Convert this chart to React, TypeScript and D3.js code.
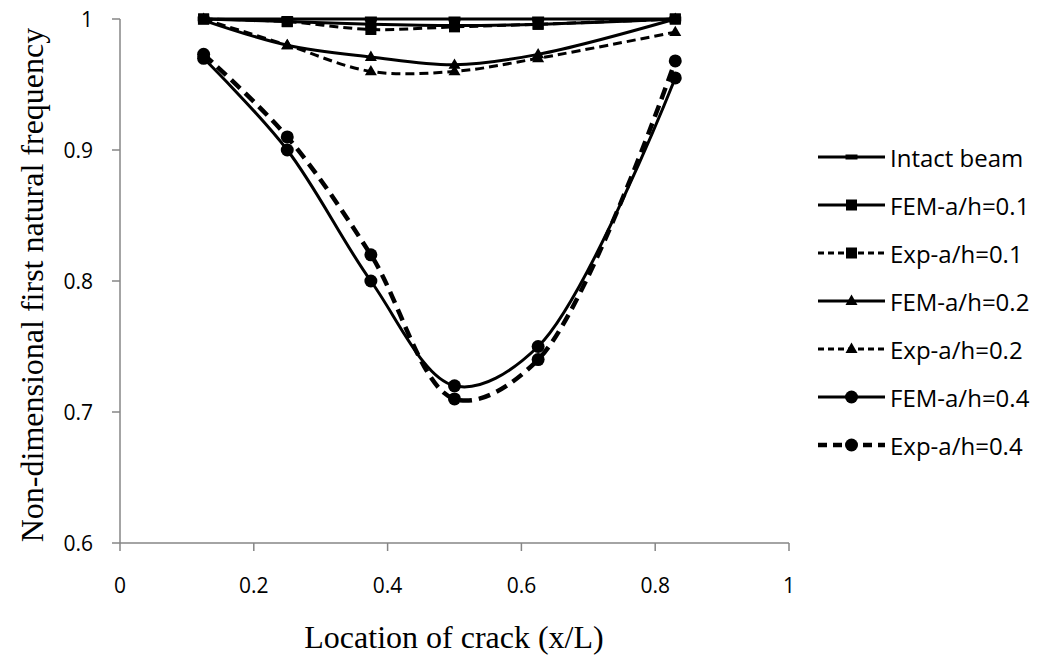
import React from "react";
import * as d3 from "d3";

const xValues = [0.125, 0.25, 0.375, 0.5, 0.625, 0.83];
const intactBeam = [1, 1, 1, 1, 1, 1];
const femA01 = [1.0, 0.998, 0.996, 0.995, 0.996, 1.0];
const expA01 = [1.0, 0.998, 0.992, 0.994, 0.996, 1.0];
const femA02 = [0.999, 0.98, 0.971, 0.965, 0.973, 1.0];
const expA02 = [1.0, 0.98, 0.96, 0.96, 0.97, 0.99];
const femA04 = [0.97, 0.9, 0.8, 0.72, 0.75, 0.955];
const expA04 = [0.973, 0.91, 0.82, 0.71, 0.74, 0.968];

const xTicks = [0, 0.2, 0.4, 0.6, 0.8, 1];
const yTicks = [0.6, 0.7, 0.8, 0.9, 1];
const xTickLabels = ["0", "0.2", "0.4", "0.6", "0.8", "1"];
const yTickLabels = ["0.6", "0.7", "0.8", "0.9", "1"];

type Marker = "dash" | "square" | "triangle" | "circle";
interface Series {
  name: string;
  values: number[];
  marker: Marker;
  dash: string | null;
  width: number;
}

const seriesList: Series[] = [
  { name: "Intact beam", values: intactBeam, marker: "dash", dash: null, width: 3 },
  { name: "FEM-a/h=0.1", values: femA01, marker: "square", dash: null, width: 3 },
  { name: "Exp-a/h=0.1", values: expA01, marker: "square", dash: "9,5", width: 3 },
  { name: "FEM-a/h=0.2", values: femA02, marker: "triangle", dash: null, width: 3 },
  { name: "Exp-a/h=0.2", values: expA02, marker: "triangle", dash: "9,5", width: 3 },
  { name: "FEM-a/h=0.4", values: femA04, marker: "circle", dash: null, width: 3 },
  { name: "Exp-a/h=0.4", values: expA04, marker: "circle", dash: "12,7", width: 4.5 },
];

const W = 1039;
const H = 656;
const plotLeft = 120;
const plotRight = 789;
const plotTop = 19;
const plotBottom = 543;
const AXIS = "#868686";
const SANS = "'Open Sans', 'Noto Sans', sans-serif";
const SERIF = "'Liberation Serif', 'Times New Roman', serif";

function MarkerShape({ type, cx, cy }: { type: Marker; cx: number; cy: number }) {
  if (type === "square") return <rect x={cx - 5.5} y={cy - 5.5} width={11} height={11} fill="#000" />;
  if (type === "triangle") {
    const s = 12;
    const h = s * 0.866;
    return (
      <path
        d={`M${cx},${cy - h * 0.62}L${cx + s / 2},${cy + h * 0.38}L${cx - s / 2},${cy + h * 0.38}Z`}
        fill="#000"
      />
    );
  }
  if (type === "circle") return <circle cx={cx} cy={cy} r={6.5} fill="#000" />;
  return <rect x={cx - 6} y={cy - 2.5} width={12} height={5} fill="#000" />;
}

export default function App() {
  const x = d3.scaleLinear().domain([0, 1]).range([plotLeft, plotRight]);
  const y = d3.scaleLinear().domain([0.6, 1]).range([plotBottom, plotTop]);
  const line = d3
    .line<[number, number]>()
    .x((d) => x(d[0]))
    .y((d) => y(d[1]))
    .curve(d3.curveCatmullRom.alpha(0.5));

  const legendX0 = 818;
  const legendX1 = 885;
  const legendTextX = 890;
  const legendY0 = 157;
  const legendStep = 48;

  return (
    <svg
      width={W}
      height={H}
      style={{ position: "absolute", left: 0, top: 0, background: "#fff" }}
      xmlns="http://www.w3.org/2000/svg"
    >
      <rect x={0} y={0} width={W} height={H} fill="#fff" />
      {/* axes */}
      <line x1={plotLeft} x2={plotLeft} y1={plotTop} y2={plotBottom} stroke={AXIS} strokeWidth={1.5} />
      <line x1={plotLeft} x2={plotRight} y1={plotBottom} y2={plotBottom} stroke={AXIS} strokeWidth={1.5} />
      {yTicks.map((t, i) => (
        <g key={"yt" + i}>
          <line x1={plotLeft - 8} x2={plotLeft} y1={y(t)} y2={y(t)} stroke={AXIS} strokeWidth={1.5} />
          <text
            x={93}
            y={y(t)}
            textAnchor="end"
            dominantBaseline="central"
            fontFamily={SANS}
            fontSize={21}
            fill="#000"
          >
            {yTickLabels[i]}
          </text>
        </g>
      ))}
      {xTicks.map((t, i) => (
        <g key={"xt" + i}>
          <line x1={x(t)} x2={x(t)} y1={plotBottom} y2={plotBottom + 8} stroke={AXIS} strokeWidth={1.5} />
          <text
            x={x(t)}
            y={585}
            textAnchor="middle"
            dominantBaseline="central"
            fontFamily={SANS}
            fontSize={21}
            fill="#000"
          >
            {xTickLabels[i]}
          </text>
        </g>
      ))}
      <text
        x={454}
        y={648}
        textAnchor="middle"
        fontFamily={SERIF}
        fontSize={32}
        fill="#000"
      >
        Location of crack (x/L)
      </text>
      <text
        transform={`translate(43,285) rotate(-90)`}
        textAnchor="middle"
        fontFamily={SERIF}
        fontSize={32}
        fill="#000"
      >
        Non-dimensional first natural frequency
      </text>

      {/* series */}
      {seriesList.map((s, si) => {
        const pts: [number, number][] = xValues.map((xv, i) => [xv, s.values[i]]);
        return (
          <g key={"s" + si}>
            <path
              d={line(pts) || ""}
              fill="none"
              stroke="#000"
              strokeWidth={s.width}
              strokeDasharray={s.dash || undefined}
            />
            {pts.map((p, pi) => (
              <MarkerShape key={pi} type={s.marker} cx={x(p[0])} cy={y(p[1])} />
            ))}
          </g>
        );
      })}

      {/* legend */}
      {seriesList.map((s, si) => {
        const ly = legendY0 + si * legendStep;
        return (
          <g key={"lg" + si}>
            <line
              x1={legendX0}
              x2={legendX1}
              y1={ly}
              y2={ly}
              stroke="#000"
              strokeWidth={s.width}
              strokeDasharray={s.dash ? (s.width > 4 ? "9,6" : "6,4") : undefined}
            />
            <MarkerShape type={s.marker} cx={(legendX0 + legendX1) / 2} cy={ly} />
            <text
              x={legendTextX}
              y={ly}
              dominantBaseline="central"
              fontFamily={SANS}
              fontSize={24}
              fill="#000"
            >
              {s.name}
            </text>
          </g>
        );
      })}
    </svg>
  );
}
